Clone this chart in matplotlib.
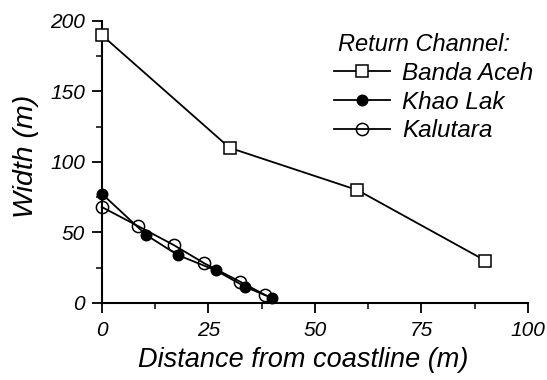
import matplotlib
matplotlib.use("Agg")
import matplotlib.pyplot as plt
from matplotlib.ticker import MultipleLocator

plt.rcParams['font.family'] = ['Liberation Sans', 'DejaVu Sans']
plt.rcParams['font.style'] = 'italic'

banda_x = [0, 30, 60, 90]
banda_y = [190, 110, 80, 30]
khao_x = [0, 10.5, 17.8, 26.8, 33.7, 39.9]
khao_y = [77.5, 48, 34, 23, 11.3, 3.5]
kalu_x = [0, 8.5, 16.9, 24.1, 32.5, 38.4]
kalu_y = [68, 54.5, 41, 28, 15, 5.5]

fig = plt.figure(figsize=(5.47, 3.80), dpi=100)
ax = fig.add_axes([0.186, 0.203, 0.779, 0.742])

ax.plot(banda_x, banda_y, '-', color='black', lw=1.3, marker='s', ms=9,
        mfc='white', mec='black', mew=1.1, label='Banda Aceh', clip_on=False, zorder=3)
ax.plot(khao_x, khao_y, '-', color='black', lw=1.3, marker='o', ms=7.5,
        mfc='black', mec='black', mew=1.1, label='Khao Lak', clip_on=False, zorder=3)
ax.plot(kalu_x, kalu_y, '-', color='black', lw=1.3, marker='o', ms=8.8,
        mfc='none', mec='black', mew=1.1, label='Kalutara', clip_on=False, zorder=4)

ax.set_xlim(0, 100)
ax.set_ylim(0, 200)
ax.xaxis.set_major_locator(MultipleLocator(25))
ax.xaxis.set_minor_locator(MultipleLocator(12.5))
ax.yaxis.set_major_locator(MultipleLocator(50))
ax.yaxis.set_minor_locator(MultipleLocator(25))
ax.spines['top'].set_visible(False)
ax.spines['right'].set_visible(False)
for s in ('left', 'bottom'):
    ax.spines[s].set_linewidth(1.5)
ax.tick_params(which='major', direction='out', length=7, width=1.3, labelsize=15)
ax.tick_params(which='minor', direction='out', length=4, width=1.1)
ax.tick_params(axis='x', pad=6)
ax.tick_params(axis='y', pad=5)

ax.set_xlabel('Distance from coastline (m)', fontsize=19.5)
ax.set_ylabel('Width (m)', fontsize=20.5)
ax.xaxis.set_label_coords(0.472, -0.155)
ax.yaxis.set_label_coords(-0.148, 0.518)

leg = fig.legend(title='Return Channel:', loc='upper left',
                 bbox_to_anchor=(334 / 547, 1 - 33 / 380),
                 frameon=False, fontsize=17.5, title_fontsize=17, handlelength=2.3,
                 handletextpad=0.5, labelspacing=0.24, borderpad=0, borderaxespad=0)
leg._legend_box.align = 'left'
leg.get_title().set_position((4, 0))

fig.savefig('out.png', dpi=100)
